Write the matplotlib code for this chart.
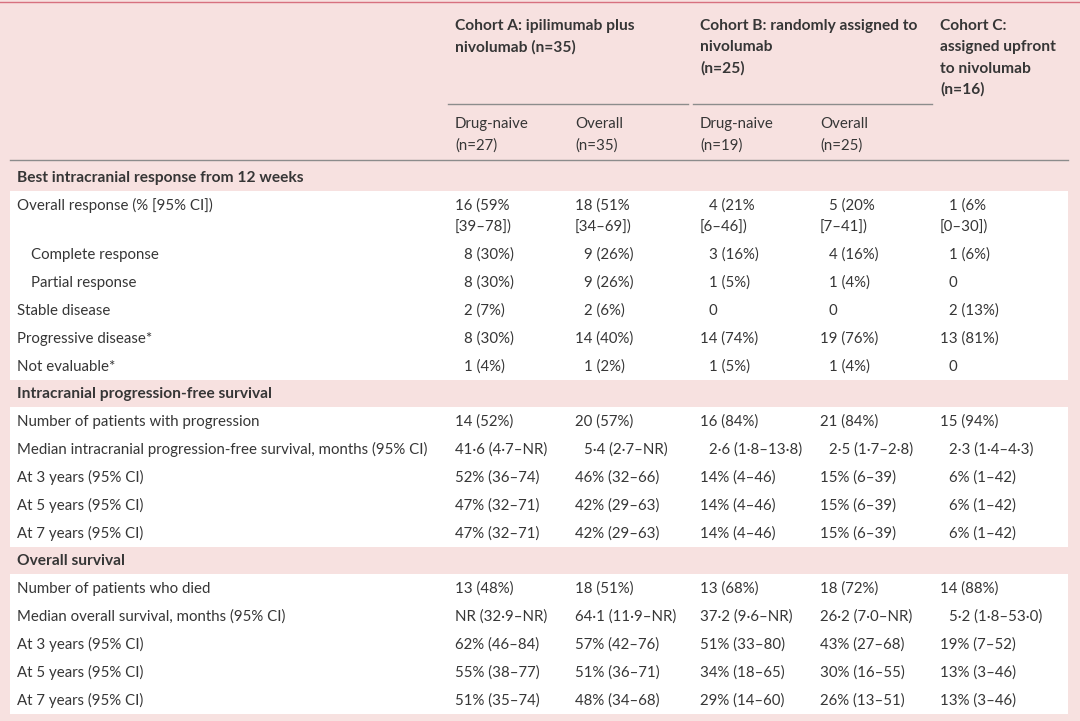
import re
import matplotlib
matplotlib.use('Agg')
import matplotlib.pyplot as plt
from matplotlib.patches import Rectangle

FONT = ['Lato', 'DejaVu Sans']
TEXT = '#363636'
PINK = '#f7e1e0'
FS = 10.85
FS_BOLD = 11.2

cohort_titles = [
    ["Cohort A: ipilimumab plus", "nivolumab (n=35)"],
    ["Cohort B: randomly assigned to", "nivolumab", "(n=25)"],
    ["Cohort C:", "assigned upfront", "to nivolumab", "(n=16)"],
]
sub_headers = [["Drug-naive", "(n=27)"], ["Overall", "(n=35)"],
               ["Drug-naive", "(n=19)"], ["Overall", "(n=25)"]]

section_titles = ["Best intracranial response from 12 weeks",
                  "Intracranial progression-free survival",
                  "Overall survival"]

response_labels = ["Overall response (% [95% CI])", "Complete response", "Partial response",
                   "Stable disease", "Progressive disease*", "Not evaluable*"]
response_indent = [0, 1, 1, 0, 0, 0]
response_values = [
    ["16 (59%\n[39–78])", "18 (51%\n[34–69])", "4 (21%\n[6–46])", "5 (20%\n[7–41])", "1 (6%\n[0–30])"],
    ["8 (30%)", "9 (26%)", "3 (16%)", "4 (16%)", "1 (6%)"],
    ["8 (30%)", "9 (26%)", "1 (5%)", "1 (4%)", "0"],
    ["2 (7%)", "2 (6%)", "0", "0", "2 (13%)"],
    ["8 (30%)", "14 (40%)", "14 (74%)", "19 (76%)", "13 (81%)"],
    ["1 (4%)", "1 (2%)", "1 (5%)", "1 (4%)", "0"],
]

pfs_labels = ["Number of patients with progression",
              "Median intracranial progression-free survival, months (95% CI)",
              "At 3 years (95% CI)", "At 5 years (95% CI)", "At 7 years (95% CI)"]
pfs_values = [
    ["14 (52%)", "20 (57%)", "16 (84%)", "21 (84%)", "15 (94%)"],
    ["41·6 (4·7–NR)", "5·4 (2·7–NR)", "2·6 (1·8–13·8)", "2·5 (1·7–2·8)", "2·3 (1·4–4·3)"],
    ["52% (36–74)", "46% (32–66)", "14% (4–46)", "15% (6–39)", "6% (1–42)"],
    ["47% (32–71)", "42% (29–63)", "14% (4–46)", "15% (6–39)", "6% (1–42)"],
    ["47% (32–71)", "42% (29–63)", "14% (4–46)", "15% (6–39)", "6% (1–42)"],
]

os_labels = ["Number of patients who died",
             "Median overall survival, months (95% CI)",
             "At 3 years (95% CI)", "At 5 years (95% CI)", "At 7 years (95% CI)"]
os_values = [
    ["13 (48%)", "18 (51%)", "13 (68%)", "18 (72%)", "14 (88%)"],
    ["NR (32·9–NR)", "64·1 (11·9–NR)", "37·2 (9·6–NR)", "26·2 (7·0–NR)", "5·2 (1·8–53·0)"],
    ["62% (46–84)", "57% (42–76)", "51% (33–80)", "43% (27–68)", "19% (7–52)"],
    ["55% (38–77)", "51% (36–71)", "34% (18–65)", "30% (16–55)", "13% (3–46)"],
    ["51% (35–74)", "48% (34–68)", "29% (14–60)", "26% (13–51)", "13% (3–46)"],
]

sections = [
    (section_titles[0], response_labels, response_values, response_indent),
    (section_titles[1], pfs_labels, pfs_values, [0] * len(pfs_labels)),
    (section_titles[2], os_labels, os_values, [0] * len(os_labels)),
]

# ---- layout (pixel coordinates) ----
W, H = 1080, 721
fig = plt.figure(figsize=(W / 100, H / 100), dpi=100)
fig.patch.set_facecolor(PINK)
ax = fig.add_axes([0, 0, 1, 1])
ax.set_xlim(0, W)
ax.set_ylim(H, 0)
ax.axis('off')
renderer = fig.canvas.get_renderer()

LABEL_X = 17
INDENT_X = 31
COL_X = [455, 575, 700, 820, 940]
GROUP_X = [455, 700, 940]
LEFT, RIGHT = 10, 1068
PITCH = 28
LINE2 = 21
BASE = 5  # baseline offset from visual centre


def txt(x, y, s, bold=False, **kw):
    return ax.text(x, y + BASE, s, fontsize=FS_BOLD if bold else FS, family=FONT, color=TEXT,
                   fontweight='bold' if bold else 'normal', va='baseline', **kw)


def width(s):
    t = ax.text(0, 0, s, fontsize=FS, family=FONT)
    w = t.get_window_extent(renderer).width
    t.remove()
    return w


W2 = width("00")

# top rule
ax.plot([0, W], [1.5, 1.5], color='#d7707f', lw=1.0)

# cohort titles
for gx, lines in zip(GROUP_X, cohort_titles):
    for i, s in enumerate(lines):
        txt(gx, 25 + 21.3 * i, s, bold=True)

# spanning rules under cohort A and B
ax.plot([448, 688], [104, 104], color='#8c8c8c', lw=1.0)
ax.plot([693, 932], [104, 104], color='#8c8c8c', lw=1.0)

for cx, lines in zip(COL_X, sub_headers):
    for i, s in enumerate(lines):
        txt(cx, 123 + 21.3 * i, s)

ax.plot([LEFT, RIGHT], [160, 160], color='#8c8c8c', lw=1.0)

# body
y = 177
for title, labels, values, indents in sections:
    txt(LABEL_X, y, title, bold=True)
    block_top = y + 14
    y += PITCH
    rows_y = []
    for lab, vals, ind in zip(labels, values, indents):
        rows_y.append(y)
        nlines = max(v.count('\n') + 1 for v in vals)
        y += PITCH + LINE2 * (nlines - 1)
    block_bot = rows_y[-1] + 14
    ax.add_patch(Rectangle((LEFT, block_top), RIGHT - LEFT, block_bot - block_top,
                           facecolor='white', edgecolor='none', zorder=0))
    for ry, lab, vals, ind in zip(rows_y, labels, values, indents):
        txt(INDENT_X if ind else LABEL_X, ry, lab)
        for cx, v in zip(COL_X, vals):
            for li, line in enumerate(v.split('\n')):
                m = re.match(r'\d+', line)
                off = max(0.0, W2 - width(m.group(0))) if m else 0.0
                txt(cx + off, ry + LINE2 * li, line)
    y = block_bot + 13

fig.savefig('out.png', dpi=100, facecolor=PINK)
